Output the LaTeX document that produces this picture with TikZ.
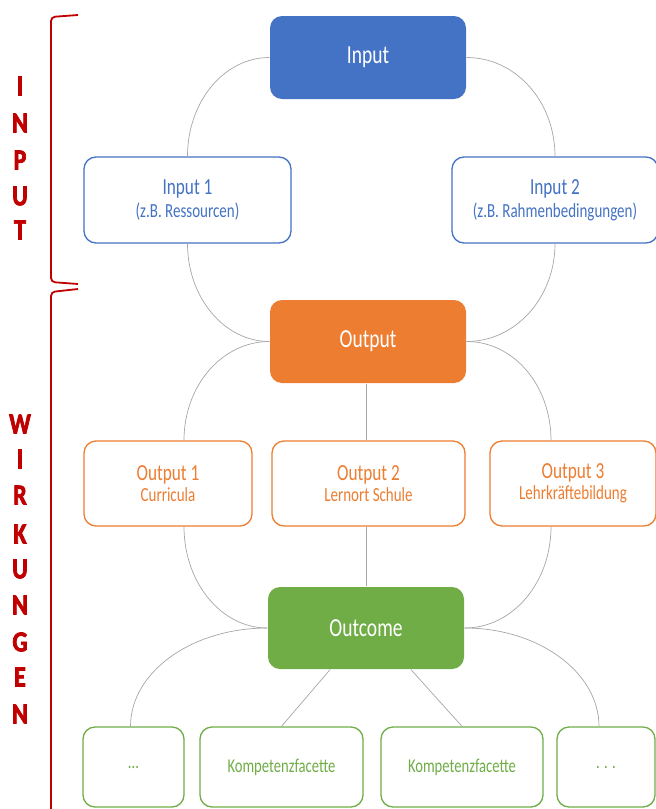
\documentclass[tikz,border=0pt]{standalone}
\usepackage{fontspec}
\setmainfont{Carlito}[FakeStretch=0.75]
\newfontfamily\lblfont{Carlito}[UprightFont={* Bold}, FakeStretch=0.82, FakeBold=2.5]
\definecolor{cblue}{HTML}{4472C4}
\definecolor{corange}{HTML}{ED7D31}
\definecolor{cgreen}{HTML}{70AD47}
\definecolor{cred}{HTML}{C00000}
\definecolor{cgray}{HTML}{A6A6A6}
\tikzset{
  box/.style={rectangle, rounded corners=12pt, line width=1.3pt, inner sep=0pt, align=center},
  solidbox/.style={box, text=white, font=\fontsize{26}{30}\selectfont},
  bluebox/.style={box, draw=cblue, fill=white, text=cblue, font=\fontsize{20}{23}\selectfont},
  orangebox/.style={box, draw=corange, fill=white, text=corange, font=\fontsize{20}{21}\selectfont},
  greenbox/.style={box, draw=cgreen, fill=white, text=cgreen, font=\fontsize{19.5}{22}\selectfont},
  conn/.style={draw=cgray, line width=0.7pt},
  bracket/.style={draw=cred, line width=1.8pt, rounded corners=4pt},
  vletter/.style={text=cred, inner sep=0pt}
}
\newcommand{\vlet}[1]{{\lblfont\fontsize{29}{29}\selectfont #1}}
\begin{document}
\begin{tikzpicture}[x=1pt,y=-1pt]
\useasboundingbox (0,0) rectangle (656,809);
% brackets
\draw[bracket] (78,15) -- (51,17) -- (51,282) -- (78,284);
\draw[bracket] (78,289) -- (51,292) -- (51,830);
% vertical labels
\foreach \l/\y [count=\i] in {I/86,N/123,P/160,U/196,T/230}
  \node[vletter] (lin\i) at (20,\y) {\vlet{\l}};
\foreach \l/\y [count=\i] in {W/424,I/459,R/495,K/534,U/569,N/605,G/642,E/677,N/714}
  \node[vletter] (lw\i) at (20,\y) {\vlet{\l}};
% nodes
\node[solidbox, fill=cblue, minimum width=196, minimum height=83] (in) at (368,57.5) {Input};
\node[bluebox, minimum width=207, minimum height=86] (in1) at (187.5,200) {{\fontsize{23}{23}\selectfont Input 1}\\(z.B. Ressourcen)};
\node[bluebox, minimum width=206, minimum height=86] (in2) at (555,200) {{\fontsize{23}{23}\selectfont Input 2}\\(z.B. Rahmenbedingungen)};
\node[solidbox, fill=corange, minimum width=196, minimum height=83] (out) at (368,341.5) {Output};
\node[orangebox, minimum width=168, minimum height=85] (o1) at (168,483.5) {{\fontsize{23}{23}\selectfont Output 1}\\Curricula};
\node[orangebox, minimum width=193, minimum height=85] (o2) at (368.5,483.5) {{\fontsize{23}{23}\selectfont Output 2}\\Lernort Schule};
\node[orangebox, minimum width=166, minimum height=85] (o3) at (573,483.5) {{\fontsize{23}{23}\selectfont Output 3}\\Lehrkräftebildung};
\node[solidbox, fill=cgreen, minimum width=196, minimum height=82] (oc) at (366,628) {Outcome};
\node[greenbox, minimum width=101, minimum height=80] (k0) at (133.5,767) {...};
\node[greenbox, minimum width=163, minimum height=80] (k1) at (281.5,767) {Kompetenzfacette};
\node[greenbox, minimum width=162, minimum height=80] (k2) at (462,767) {Kompetenzfacette};
\node[greenbox, minimum width=98, minimum height=80] (k3) at (606,767) {. . .};
% connectors
\draw[conn] (in.west) .. controls +(-45,0) and +(0,-55) .. (in1.north);
\draw[conn] (in.east) .. controls +(49,0) and +(0,-55) .. (in2.north);
\draw[conn] (in1.south) .. controls +(0,54) and +(-45,0) .. (out.west);
\draw[conn] (in2.south) .. controls +(0,54) and +(49,0) .. (out.east);
\draw[conn] (out.west) .. controls +(-47,0) and +(0,-55) .. ([xshift=16pt]o1.north);
\draw[conn] (out.east) .. controls +(47,0) and +(0,-55) .. ([xshift=-22pt]o3.north);
\draw[conn] (out.south -| oc.north) -- (o2.north -| oc.north);
\draw[conn] ([xshift=16pt]o1.south) .. controls +(0,56) and +(-46,0) .. (oc.west);
\draw[conn] ([xshift=-22pt]o3.south) .. controls +(0,56) and +(48,0) .. (oc.east);
\draw[conn] (o2.south -| oc.north) -- (oc.north);
\draw[conn] (oc.west) .. controls +(-76,0) and +(0,-54) .. ([xshift=-3pt]k0.north);
\draw[conn] (oc.east) .. controls +(74,0) and +(0,-54) .. ([xshift=-7pt]k3.north);
\draw[conn] ([xshift=-36pt]oc.south) -- (k1.north);
\draw[conn] ([xshift=45pt]oc.south) -- (k2.north);
\end{tikzpicture}
\end{document}
